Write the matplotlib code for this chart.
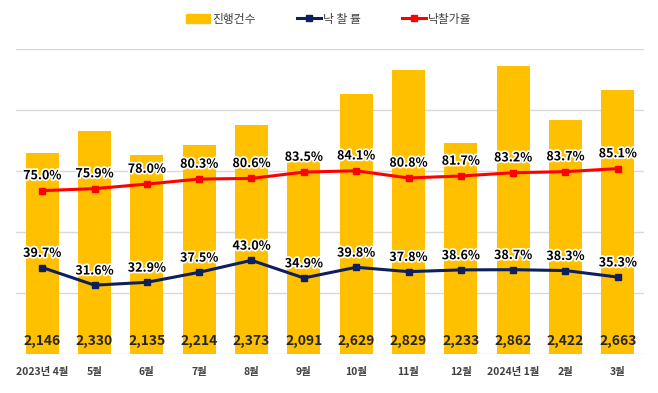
import matplotlib
matplotlib.use("Agg")
import matplotlib.pyplot as plt
import matplotlib.patheffects as pe
from matplotlib.patches import Patch
from matplotlib.lines import Line2D
import numpy as np

plt.rcParams['font.family'] = ['Noto Sans CJK KR', 'DejaVu Sans']

months = ["2023년 4월", "5월", "6월", "7월", "8월", "9월", "10월", "11월",
          "12월", "2024년 1월", "2월", "3월"]
cases = [2146, 2330, 2135, 2214, 2373, 2091, 2629, 2829, 2233, 2862, 2422, 2663]
win_rate = [39.7, 31.6, 32.9, 37.5, 43.0, 34.9, 39.8, 37.8, 38.6, 38.7, 38.3, 35.3]
price_rate = [75.0, 75.9, 78.0, 80.3, 80.6, 83.5, 84.1, 80.8, 81.7, 83.2, 83.7, 85.1]

BAR = "#FFC000"
NAVY = "#0D1F5C"
RED = "#FF0000"

fig = plt.figure(figsize=(6.58, 3.93), dpi=100)
ax = fig.add_axes([16 / 658, 39 / 393, 628 / 658, 305 / 393])
x = np.arange(len(months))

ax.bar(x, cases, width=0.63, color=BAR, zorder=2)
ax.set_ylim(500, 3000)
ax.set_yticks(np.arange(500, 3001, 500))
ax.set_xlim(-0.5, len(months) - 0.5)
ax.grid(axis="y", color="#D9D9D9", linewidth=1, zorder=0)
ax.set_axisbelow(True)
for s in ax.spines.values():
    s.set_visible(False)
ax.set_xticks(x)
ax.set_xticklabels(months, fontsize=7.5, color="#404040", fontweight="bold")

for xi, v in zip(x, cases):
    ax.text(xi, 605, f"{v:,}", ha="center", va="center", fontsize=10,
            fontweight="bold", color="#262626", zorder=5)

ax2 = ax.twinx()
ax2.set_ylim(0, 140)
ax2.axis("off")
ax.tick_params(axis="y", left=False, right=False, labelleft=False, length=0)
ax.tick_params(axis="x", bottom=False, pad=6)

glow = [pe.withStroke(linewidth=2.5, foreground="white")]
ax2.plot(x, price_rate, color=RED, linewidth=2.2, marker="s", markersize=4, zorder=4)
ax2.plot(x, win_rate, color=NAVY, linewidth=2.2, marker="s", markersize=4, zorder=4)
for xi, v in zip(x, price_rate):
    ax2.text(xi, v + 6.8, f"{v:.1f}%", ha="center", va="center", fontsize=9,
             fontweight="bold", color="black", path_effects=glow, zorder=6)
for xi, v in zip(x, win_rate):
    ax2.text(xi, v + 6.5, f"{v:.1f}%", ha="center", va="center", fontsize=9,
             fontweight="bold", color="black", path_effects=glow, zorder=6)

handles = [
    Patch(facecolor=BAR, edgecolor=BAR),
    Line2D([0], [0], color=NAVY, linewidth=2.2, marker="s", markersize=4),
    Line2D([0], [0], color=RED, linewidth=2.2, marker="s", markersize=4),
]
fig.legend(handles, ["진행건수", "낙 찰 률", "낙찰가율"], loc="center",
           bbox_to_anchor=(0.5, 1 - 19 / 393), ncol=3, frameon=False,
           fontsize=8.5, handlelength=2, handletextpad=0.2, columnspacing=3.5,
           labelcolor="#404040")

fig.savefig("out.png", dpi=100)
